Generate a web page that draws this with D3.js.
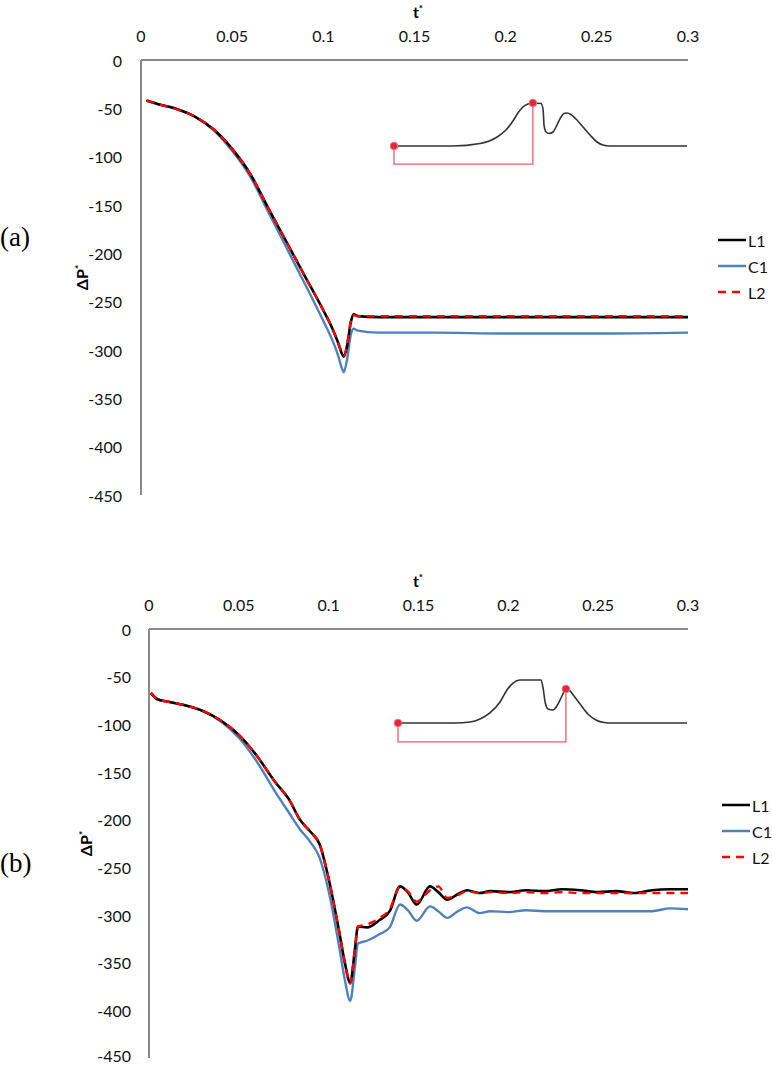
<!DOCTYPE html>
<html>
<head>
<meta charset="utf-8">
<script src="https://cdn.jsdelivr.net/npm/d3@7"></script>
<style>
  body { margin: 0; background: #fff; }
  svg { display: block; font-family: Lato, 'Open Sans', sans-serif; }
</style>
</head>
<body>
<div id="chart"></div>
<script>
// ----- data -----
const xTicks = [0, 0.05, 0.1, 0.15, 0.2, 0.25, 0.3]
const yTicks = [0, -50, -100, -150, -200, -250, -300, -350, -400, -450]
const seriesNames = ['L1', 'C1', 'L2']

// panel (a)
const tA = [0.003, 0.01, 0.02, 0.03, 0.04, 0.05, 0.06, 0.07, 0.08, 0.09, 0.1, 0.105, 0.108, 0.11, 0.1112, 0.113, 0.115, 0.1165, 0.119, 0.13, 0.16, 0.2, 0.25, 0.3]
const l1A = [-42, -46, -51, -59, -72, -92, -118, -154, -189, -224, -259, -278, -292, -303, -307, -296, -272, -263, -265, -266, -266, -266, -266, -266]
const c1A = [-42, -46, -51, -59, -73, -94, -121, -158, -195, -232, -270, -290, -305, -318, -323, -310, -285, -278, -280, -282, -282, -283, -283, -282]
const l2A = [-42, -46, -51, -59, -72, -92, -118, -154, -189, -224, -259, -278, -292, -302, -306, -295, -271, -264, -265, -265, -265, -265, -265, -265]

// panel (b)
const tB = [0.001, 0.005, 0.01, 0.02, 0.03, 0.04, 0.05, 0.06, 0.07, 0.078, 0.084, 0.09, 0.095, 0.1, 0.106, 0.109, 0.112, 0.1146, 0.1163, 0.1213, 0.1285, 0.134, 0.1397, 0.144, 0.149, 0.1564, 0.161, 0.166, 0.172, 0.177, 0.184, 0.19, 0.2, 0.21, 0.22, 0.23, 0.24, 0.25, 0.26, 0.27, 0.28, 0.29, 0.3]
const l1B = [-67, -74, -76, -80, -86, -96, -111, -133, -160, -179, -200, -213, -226, -262, -319, -350, -371, -336, -312, -313, -305, -296, -270, -276, -289, -270, -276, -284, -278, -274, -277, -275, -276, -274, -275, -273, -274, -276, -275, -277, -274, -273, -273]
const c1B = [-67, -74, -76, -80, -86, -97, -114, -139, -170, -193, -210, -224, -240, -275, -335, -368, -390, -355, -330, -327, -320, -313, -289, -295, -306, -291, -296, -303, -296, -292, -298, -296, -297, -295, -296, -296, -296, -296, -296, -296, -296, -293, -294]
const l2B = [-67, -74, -76, -80, -86, -96, -111, -133, -160, -179, -200, -213, -226, -262, -319, -350, -372, -336, -312, -310, -303, -294, -271, -275, -286, -274, -270, -282, -279, -275, -277, -276, -277, -276, -277, -276, -277, -277, -277, -277, -277, -277, -277]

// inset sketches: normalised time vs normalised pressure
const insetAX = [0, 0.201, 0.294, 0.352, 0.382, 0.406, 0.423, 0.44, 0.457, 0.474, 0.502, 0.509, 0.512, 0.519, 0.529, 0.543, 0.556, 0.57, 0.58, 0.59, 0.604, 0.621, 0.645, 0.669, 0.693, 0.713, 0.737, 1]
const insetAY = [0, 0, 0.058, 0.209, 0.372, 0.581, 0.767, 0.907, 0.977, 1, 0.988, 0.837, 0.488, 0.326, 0.291, 0.326, 0.488, 0.674, 0.756, 0.767, 0.733, 0.628, 0.442, 0.256, 0.093, 0.023, 0, 0]
const insetAMark = [0.474, 1]

const insetBX = [0, 0.197, 0.249, 0.284, 0.318, 0.353, 0.377, 0.398, 0.422, 0.495, 0.502, 0.509, 0.519, 0.536, 0.55, 0.564, 0.574, 0.581, 0.592, 0.609, 0.63, 0.657, 0.685, 0.713, 0.74, 1]
const insetBY = [0, 0, 0.023, 0.093, 0.233, 0.488, 0.767, 0.93, 1, 1, 0.814, 0.488, 0.326, 0.302, 0.395, 0.581, 0.721, 0.791, 0.767, 0.628, 0.442, 0.209, 0.07, 0.012, 0, 0]
const insetBMark = [0.581, 0.791]

// ----- layout -----
const width = 772
const height = 1065
const colors = { L1: '#000000', C1: '#4f81bd', L2: '#ff0000' }
const axisColor = '#898989'

const svg = d3.select('#chart').append('svg').attr('width', width).attr('height', height)

function drawPanel (p) {
  const xScale = d3.scaleLinear().domain([0, 0.3]).range([p.left, p.right])
  const yScale = d3.scaleLinear().domain([0, -450]).range([p.top, p.bottom])
  const g = svg.append('g')

  // axis lines (no tick marks, like the excel original)
  g.append('line').attr('x1', p.left).attr('x2', p.right).attr('y1', p.top).attr('y2', p.top)
    .attr('stroke', axisColor).attr('stroke-width', 2)
  g.append('line').attr('x1', p.left).attr('x2', p.left).attr('y1', p.top).attr('y2', p.bottom)
    .attr('stroke', axisColor).attr('stroke-width', 2)

  g.selectAll('.xt').data(xTicks).enter().append('text')
    .attr('x', d => xScale(d)).attr('y', p.top - 25)
    .attr('text-anchor', 'middle').attr('dominant-baseline', 'central')
    .attr('font-size', 16).attr('fill', '#111')
    .text(d => d3.format('~g')(d))

  g.selectAll('.yt').data(yTicks).enter().append('text')
    .attr('x', p.tickLabelX).attr('y', d => Math.min(yScale(d), p.lastLabelY))
    .attr('text-anchor', 'end').attr('dominant-baseline', 'central')
    .attr('font-size', 16).attr('fill', '#111')
    .text(d => d)

  // axis titles
  const tt = g.append('text').attr('x', 418).attr('y', p.top - 42)
    .attr('text-anchor', 'middle').attr('font-size', 16).attr('font-weight', 'bold')
  tt.append('tspan').text('t')
  tt.append('tspan').attr('font-size', 10).attr('dy', -6).text('*')

  const yt = g.append('text').attr('transform', `translate(${p.yTitleX} ${yScale(-225)}) rotate(-90)`)
    .attr('text-anchor', 'middle').attr('font-size', 16).attr('font-weight', 'bold')
  yt.append('tspan').text('ΔP')
  yt.append('tspan').attr('font-size', 10).attr('dy', -6).text('*')

  // panel tag
  g.append('text').attr('x', 0).attr('y', p.tagY)
    .attr('font-family', "'Liberation Serif', 'Times New Roman', serif").attr('font-size', 27)
    .text(p.tag)

  // series
  const line = d3.line().x(d => xScale(d[0])).y(d => yScale(d[1])).curve(d3.curveMonotoneX)
  const series = [
    { name: 'C1', values: p.c1 },
    { name: 'L1', values: p.l1 },
    { name: 'L2', values: p.l2 }
  ]
  g.selectAll('.series').data(series).enter().append('path')
    .attr('d', d => line(p.t.map((t, i) => [t, d.values[i]])))
    .attr('fill', 'none')
    .attr('stroke', d => colors[d.name])
    .attr('stroke-width', d => d.name === 'L1' ? 2.6 : 2.4)
    .attr('stroke-dasharray', d => d.name === 'L2' ? '8 6' : null)

  // legend
  const leg = g.selectAll('.leg').data(seriesNames).enter().append('g')
    .attr('transform', (d, i) => `translate(${p.legendX} ${p.legendY + i * p.legendStep})`)
  leg.append('line').attr('x1', 0).attr('x2', 28).attr('y1', 0).attr('y2', 0)
    .attr('stroke', d => colors[d]).attr('stroke-width', 2.5)
    .attr('stroke-dasharray', d => d === 'L2' ? '8 6' : null)
  leg.append('text').attr('x', 30).attr('y', 0).attr('dominant-baseline', 'central')
    .attr('font-size', 16).attr('fill', '#111').text(d => d)

  // inset sketch of the pressure pulse
  const ix = d3.scaleLinear().domain([0, 1]).range([p.insetLeft, 687])
  const iy = d3.scaleLinear().domain([0, 1]).range([p.insetBase, p.insetBase - 43])
  const insetLine = d3.line().x(d => ix(d[0])).y(d => iy(d[1])).curve(d3.curveMonotoneX)
  const bracket = [[0, 0], [0, p.bracketDepth], [p.mark[0], p.bracketDepth], p.mark]
  g.append('path').attr('d', d3.line().x(d => ix(d[0])).y(d => iy(d[1]))(bracket))
    .attr('fill', 'none').attr('stroke', '#ec5b6a').attr('stroke-width', 1.3)
  g.append('path').attr('d', insetLine(p.insetX.map((x, i) => [x, p.insetY[i]])))
    .attr('fill', 'none').attr('stroke', '#333').attr('stroke-width', 1.6)
  g.selectAll('.dot').data([[0, 0], p.mark]).enter().append('circle')
    .attr('cx', d => ix(d[0])).attr('cy', d => iy(d[1])).attr('r', 3.8)
    .attr('fill', '#e3263b').attr('stroke', '#f07480').attr('stroke-width', 1)
}

drawPanel({
  tag: '(a)', tagY: 246, left: 141, right: 688, top: 60, bottom: 495,
  tickLabelX: 122, yTitleX: 88, lastLabelY: 1000,
  legendX: 718, legendY: 240, legendStep: 26,
  t: tA, l1: l1A, c1: c1A, l2: l2A,
  insetLeft: 394, insetBase: 146, bracketDepth: -0.42,
  insetX: insetAX, insetY: insetAY, mark: insetAMark
})

drawPanel({
  tag: '(b)', tagY: 872, left: 149, right: 688, top: 629, bottom: 1058,
  tickLabelX: 131, yTitleX: 92, lastLabelY: 1055,
  legendX: 722, legendY: 805, legendStep: 26,
  t: tB, l1: l1B, c1: c1B, l2: l2B,
  insetLeft: 398, insetBase: 723, bracketDepth: -0.44,
  insetX: insetBX, insetY: insetBY, mark: insetBMark
})
</script>
</body>
</html>
